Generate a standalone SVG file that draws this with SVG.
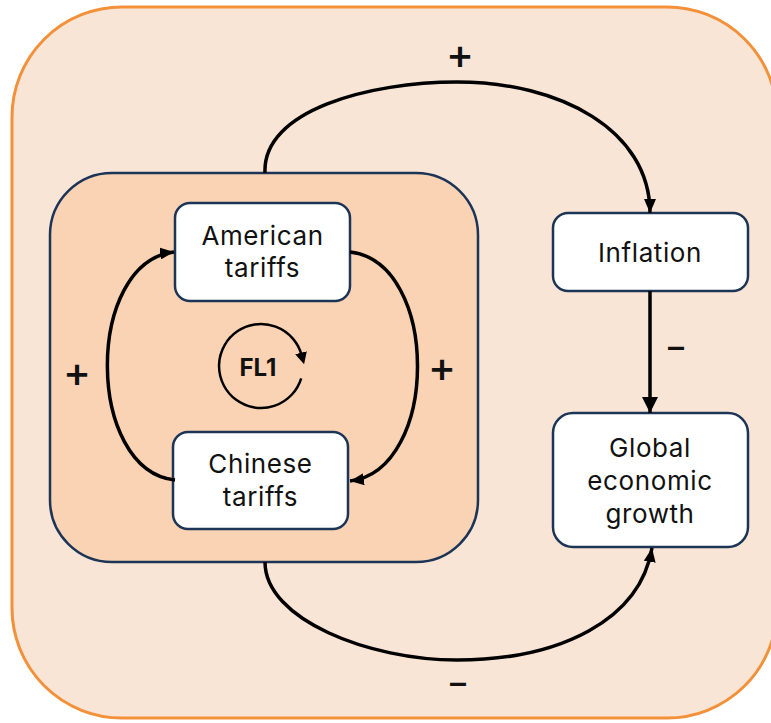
<svg xmlns="http://www.w3.org/2000/svg" width="771" height="723" viewBox="0 0 771 723">
<defs>
<style>
.node rect{fill:#ffffff;stroke:#1c3557;stroke-width:2.5}
.lbl{font-family:Inter,"Liberation Sans",Arial,sans-serif;font-size:26px;letter-spacing:0.6px;fill:#111;text-anchor:middle}
.sign{font-family:Inter,"Liberation Sans",Arial,sans-serif;font-size:42px;font-weight:500;fill:#111;text-anchor:middle}
.minus{font-family:Inter,"Liberation Sans",Arial,sans-serif;font-size:32px;font-weight:600;fill:#111;text-anchor:middle}
.conn path{fill:none;stroke:#000;stroke-width:3.5}
</style>
<marker id="ah" viewBox="0 0 14 12" refX="14" refY="6" markerWidth="14" markerHeight="12" markerUnits="userSpaceOnUse" orient="auto">
<path d="M0 0 L14 6 L0 12 Z" fill="#000"/>
</marker>
<marker id="ahb" viewBox="0 0 16 16" refX="16" refY="8" markerWidth="16" markerHeight="16" markerUnits="userSpaceOnUse" orient="auto">
<path d="M0 0 L16 8 L0 16 Z" fill="#000"/>
</marker>
<marker id="ahs" viewBox="0 0 10 10" refX="2" refY="5" markerWidth="12" markerHeight="12" markerUnits="userSpaceOnUse" orient="auto">
<path d="M0 0 L10 5 L0 10 Z" fill="#000"/>
</marker>
</defs>
<g id="outer">
<rect x="12" y="7" width="765" height="711" rx="110" fill="#f9e5d6" stroke="#f3913a" stroke-width="3"/>
</g>
<g id="loop-group">
<rect x="50" y="173" width="428" height="389" rx="62" fill="#f9d3b3" stroke="#1c3557" stroke-width="2.5"/>
</g>
<g id="american" class="node">
<rect x="175" y="203" width="175" height="98" rx="15"/>
<text class="lbl" x="262.5" y="245">American</text>
<text class="lbl" x="262.5" y="277">tariffs</text>
</g>
<g id="chinese" class="node">
<rect x="173" y="432" width="175" height="97" rx="15"/>
<text class="lbl" x="260.5" y="473">Chinese</text>
<text class="lbl" x="260.5" y="506">tariffs</text>
</g>
<g id="inflation" class="node">
<rect x="553" y="213" width="195" height="78" rx="15"/>
<text class="lbl" x="650" y="262">Inflation</text>
</g>
<g id="growth" class="node">
<rect x="553" y="413" width="195" height="134" rx="20"/>
<text class="lbl" x="650" y="457">Global</text>
<text class="lbl" x="650" y="490">economic</text>
<text class="lbl" x="650" y="523">growth</text>
</g>
<g id="fl1">
<path d="M301.2 378.3 A42 42 0 1 1 301.6 355.1" fill="none" stroke="#000" stroke-width="2.5" marker-end="url(#ahs)"/>
<text x="258" y="376" font-family="Inter,'Liberation Sans',Arial,sans-serif" font-size="24" font-weight="bold" text-anchor="middle" fill="#111">FL1</text>
</g>
<g id="connectors" class="conn">
<path d="M265 173 C262 110 370 82 457 82 C560 82 650 130 650 213" marker-end="url(#ah)"/>
<path d="M650 291 L650 413" stroke-width="5" marker-end="url(#ahb)"/>
<path d="M265 562 C265 620 370 660 457 660 C560 660 640 620 652 548" stroke-width="4" marker-end="url(#ah)"/>
<path d="M175 480 C85 470 85 262 174 252" marker-end="url(#ah)"/>
<path d="M350 252 C440 262 440 470 350 481" marker-end="url(#ah)"/>
</g>
<g id="labels">
<text class="sign" x="460" y="69">+</text>
<text class="sign" x="77" y="387">+</text>
<text class="sign" x="442" y="382">+</text>
<text class="minus" x="676" y="358">–</text>
<text class="minus" x="458" y="694">–</text>
</g>
</svg>
